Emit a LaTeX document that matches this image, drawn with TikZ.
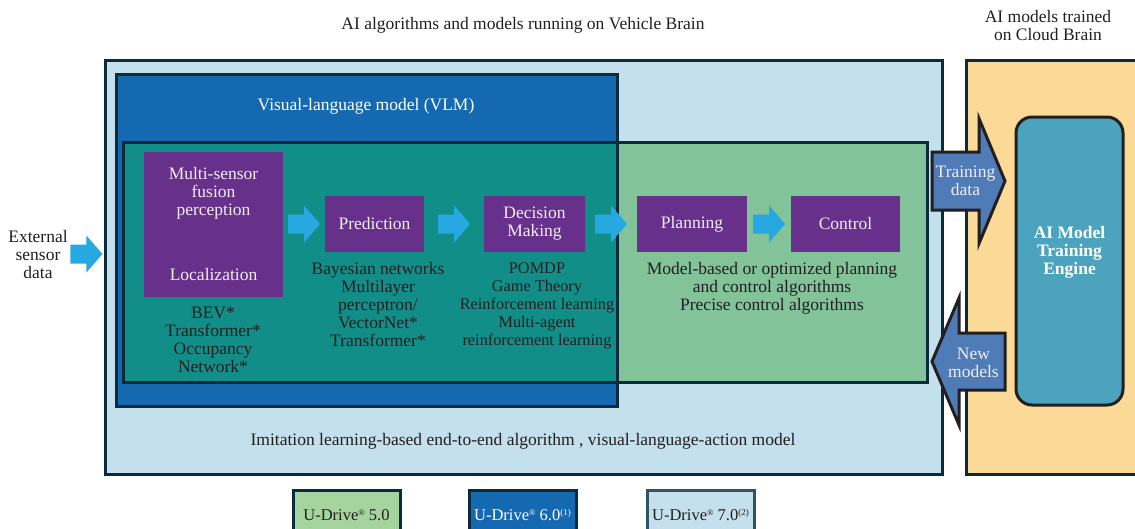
\documentclass[tikz,border=0pt]{standalone}
\usepackage{fontspec}
\setmainfont{Liberation Serif}
\usetikzlibrary{calc}

\definecolor{ink}{HTML}{231F20}
\definecolor{navy}{HTML}{0B2B3C}
\definecolor{vehicleblue}{HTML}{C3E0EC}
\definecolor{vlmblue}{HTML}{1469B1}
\definecolor{e2egreen}{HTML}{82C39A}
\definecolor{overlapteal}{HTML}{128E89}
\definecolor{stagepurple}{HTML}{67308A}
\definecolor{flowcyan}{HTML}{27A8E0}
\definecolor{cloudorange}{HTML}{FBD996}
\definecolor{engineblue}{HTML}{4CA3BD}
\definecolor{syncblue}{HTML}{4F7BB7}
\definecolor{legendgreen}{HTML}{A6D49E}
\definecolor{legendslate}{HTML}{2E5566}
\definecolor{paletext}{HTML}{F2ECF4}

% small raised marks used in the product names
\newcommand\regmark{\raisebox{0.6ex}{\fontsize{8.5}{8.5}\selectfont\textregistered}}
\newcommand\notemark[1]{\raisebox{0.6ex}{\fontsize{9}{9}\selectfont(#1)}}

\begin{document}
\begin{tikzpicture}[x=1pt,y=-1pt,
  txt/.style={text=ink, font=\fontsize{17.5}{18}\selectfont, align=center, inner sep=0},
  wtxt/.style={txt, text=paletext},
  panel/.style={rectangle, inner sep=0, outer sep=0, anchor=north west},
  frame/.style={draw=navy, line width=3pt},
  stage/.style={panel, fill=stagepurple, wtxt},
  legendbox/.style={panel, txt, font=\fontsize{16.5}{18}\selectfont, line width=3pt, minimum width=107pt, minimum height=50pt},
  pics/flowarrow/.style={code={
    \fill[flowcyan] (-16,-9.5) -- (0,-9.5) -- (0,-18.5) -- (16,0) -- (0,18.5) -- (0,9.5) -- (-16,9.5) -- cycle;}},
  pics/uploadarrow/.style={code={
    \filldraw[fill=syncblue, draw=ink, line width=3pt, line join=miter]
      (-36.5,-29) -- (10.5,-29) -- (10.5,-62.5) -- (36.5,0) -- (10.5,62.5) -- (10.5,29) -- (-36.5,29) -- cycle;}},
  pics/downloadarrow/.style={code={
    \filldraw[fill=syncblue, draw=ink, line width=3pt, line join=miter]
      (36.5,-28.5) -- (-9.5,-28.5) -- (-9.5,-63.5) -- (-36.5,0) -- (-9.5,63.5) -- (-9.5,28.5) -- (36.5,28.5) -- cycle;}}
]
\useasboundingbox (0,0) rectangle (1135,528);
\clip (0,0) rectangle (1135,528);

% headings
\node[txt] (vehtitle) at (523,25) {AI algorithms and models running on Vehicle Brain};
\node[txt] (cloudtitle) at (1048,26) {AI models trained\\on Cloud Brain};

% vehicle brain and cloud brain panels
\node[panel, fill=vehicleblue, frame, minimum width=837pt, minimum height=414pt] (vehicle) at (105,60) {};
\node[panel, fill=cloudorange, frame, minimum width=200pt, minimum height=414pt] (cloud) at (966,60) {};

% VLM and end-to-end regions with their overlap
\node[panel, fill=vlmblue, minimum width=501pt, minimum height=332pt] (vlm) at (116,74) {};
\node[panel, fill=e2egreen, minimum width=804pt, minimum height=240pt] (e2e) at (123,142) {};
\fill[overlapteal] (e2e.north west) rectangle (vlm.east |- e2e.south);
\draw[frame] (vlm.north west) rectangle (vlm.south east);
\draw[frame] (e2e.north west) rectangle (e2e.south east);

\node[txt, text=white] (vlmlabel) at (366,106) {Visual-language model (VLM)};
\node[txt] (e2elabel) at (523,441) {Imitation learning-based end-to-end algorithm , visual-language-action model};

% pipeline stages
\node[stage, minimum width=139pt, minimum height=145pt] (percep) at (144,152) {};
\node[wtxt] (fusion) at ($(percep.north)+(0,41.5)$) {Multi-sensor\\fusion\\perception};
\node[wtxt] (local) at ($(percep.south)+(0,-22)$) {Localization};
\node[stage, minimum width=99pt, minimum height=56pt] (pred) at (325,196) {Prediction};
\node[stage, minimum width=101pt, minimum height=56pt] (dec) at (484,196) {Decision\\Making};
\node[stage, minimum width=110pt, minimum height=56pt] (plan) at (637,196) {Planning};
\node[stage, minimum width=109pt, minimum height=56pt] (ctrl) at (791,196) {Control};

% flow between stages
\pic at ($(percep.east |- pred.west)!0.5!(pred.west)$) {flowarrow};
\pic at ($(pred.east)!0.5!(dec.west)$) {flowarrow};
\pic at ($(dec.east)!0.5!(plan.west)$) {flowarrow};
\pic at ($(plan.east)!0.5!(ctrl.west)$) {flowarrow};

% algorithms under each stage
\node[txt] (percalg) at (213,339.5) {BEV*\\Transformer*\\Occupancy\\Network*};
\node[txt] (predalg) at (378,305) {Bayesian networks\\Multilayer\\perceptron/\\VectorNet*\\Transformer*};
\node[txt, font=\fontsize{16.3}{18}\selectfont] (decalg) at (537,305.5) {POMDP\\Game Theory\\Reinforcement learning\\Multi-agent\\reinforcement learning};
\node[txt] (planalg) at (772,288) {Model-based or optimized planning\\and control algorithms\\Precise control algorithms};

% external input
\node[txt] (extsensor) at (38,255) {External\\sensor\\data};
\pic at ($(extsensor.east)!0.5!(vehicle.west |- extsensor.east)+(0,-1)$) {flowarrow};

% cloud training loop
\node[panel, fill=engineblue, draw=ink, line width=3pt, rounded corners=16pt,
      minimum width=107pt, minimum height=288pt] (engine) at (1016,117) {};
\node[wtxt, text=white, font=\fontsize{17.5}{18}\selectfont\bfseries] (enginelabel) at (engine.center |- 0,252) {AI Model\\Training\\Engine};

\coordinate (upmid) at ($(vehicle.east |- 0,181)+(26.5,0)$);
\pic at (upmid) {uploadarrow};
\node[wtxt] (trainlabel) at ($(upmid)+(-3,0)$) {Training\\data};

\coordinate (downmid) at ($(vehicle.east |- 0,361.5)+(26.5,0)$);
\pic at (downmid) {downloadarrow};
\node[wtxt] (newlabel) at ($(downmid)+(5,1.5)$) {New\\models};

% legend
\node[legendbox, fill=legendgreen, draw=navy] (leg5) at (293,490) {U-Drive\regmark{} 5.0};
\node[legendbox, fill=vlmblue, draw=navy, text=white] (leg6) at (469,490) {U-Drive\regmark{} 6.0\notemark{1}};
\node[legendbox, fill=vehicleblue, draw=legendslate] (leg7) at (647,490) {U-Drive\regmark{} 7.0\notemark{2}};
\end{tikzpicture}
\end{document}
